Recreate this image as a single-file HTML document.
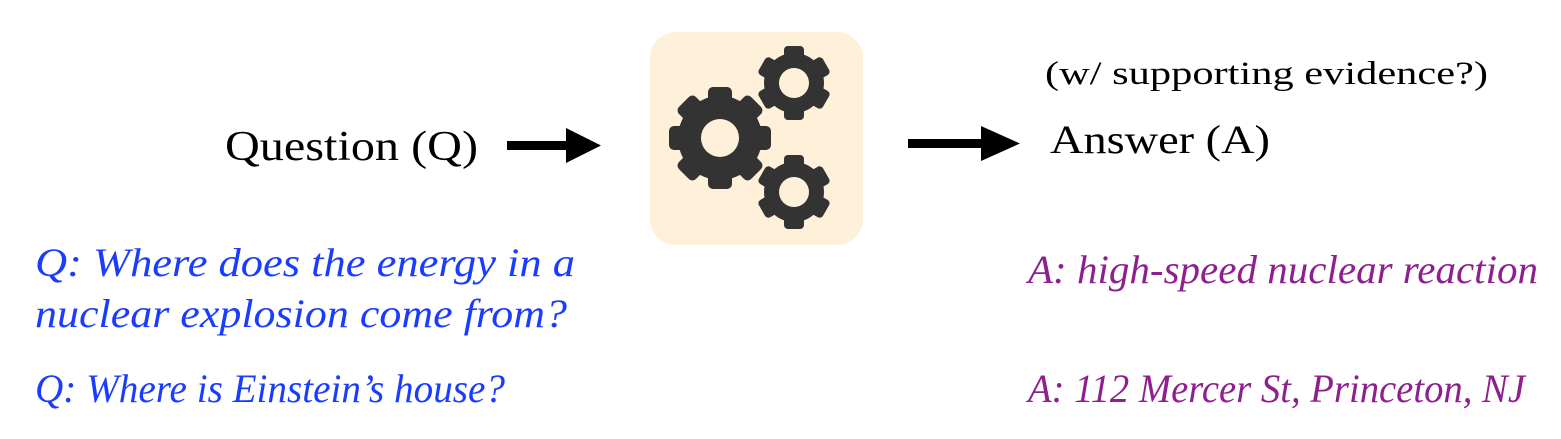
<!DOCTYPE html>
<html><head><style>html,body{margin:0;padding:0;background:#fff;}svg{display:block}</style></head>
<body>
<svg width="1561" height="439" viewBox="0 0 1561 439" xmlns="http://www.w3.org/2000/svg">
<defs>
<g id="t8"><rect x="-12" y="-51" width="24" height="102" rx="5"/></g>
<g id="t6"><rect x="-10" y="-37" width="20" height="74" rx="4"/></g>
</defs>
<rect x="650" y="32" width="213" height="213" rx="26" fill="#fff1d9"/>
<g fill="#333">
 <g transform="translate(720,138)">
  <circle r="42"/>
  <use href="#t8"/><use href="#t8" transform="rotate(45)"/><use href="#t8" transform="rotate(90)"/><use href="#t8" transform="rotate(135)"/>
  <circle r="19" fill="#fff1d9"/>
 </g>
 <g transform="translate(794,83)">
  <circle r="30"/>
  <use href="#t6"/><use href="#t6" transform="rotate(60)"/><use href="#t6" transform="rotate(120)"/>
  <circle r="15" fill="#fff1d9"/>
 </g>
 <g transform="translate(794,192)">
  <circle r="30"/>
  <use href="#t6"/><use href="#t6" transform="rotate(60)"/><use href="#t6" transform="rotate(120)"/>
  <circle r="15" fill="#fff1d9"/>
 </g>
</g>
<g fill="#000">
 <rect x="507" y="141" width="62" height="9"/>
 <polygon points="566,128 601,145.5 566,163"/>
 <rect x="908" y="139" width="76" height="9"/>
 <polygon points="981,126 1020,143.5 981,161"/>
</g>
<g font-family="'Liberation Serif',serif" fill="#000">
 <text x="225" y="160" font-size="42" textLength="253" lengthAdjust="spacingAndGlyphs">Question (Q)</text>
 <text x="1050" y="153" font-size="40" textLength="220" lengthAdjust="spacingAndGlyphs">Answer (A)</text>
 <text x="1045" y="84" font-size="33" textLength="443" lengthAdjust="spacingAndGlyphs">(w/ supporting evidence?)</text>
</g>
<g font-family="'Liberation Serif',serif" font-style="italic" font-size="40">
 <text x="35" y="276" fill="#1a3cff" textLength="540" lengthAdjust="spacingAndGlyphs">Q: Where does the energy in a</text>
 <text x="35" y="327" fill="#1a3cff" textLength="532" lengthAdjust="spacingAndGlyphs">nuclear explosion come from?</text>
 <text x="35" y="402" fill="#1a3cff" textLength="470" lengthAdjust="spacingAndGlyphs">Q: Where is Einstein’s house?</text>
 <text x="1028" y="283" fill="#8e1f8e" textLength="510" lengthAdjust="spacingAndGlyphs">A: high-speed nuclear reaction</text>
 <text x="1028" y="402" fill="#8e1f8e" textLength="497" lengthAdjust="spacingAndGlyphs">A: 112 Mercer St, Princeton, NJ</text>
</g>
</svg>
</body></html>
